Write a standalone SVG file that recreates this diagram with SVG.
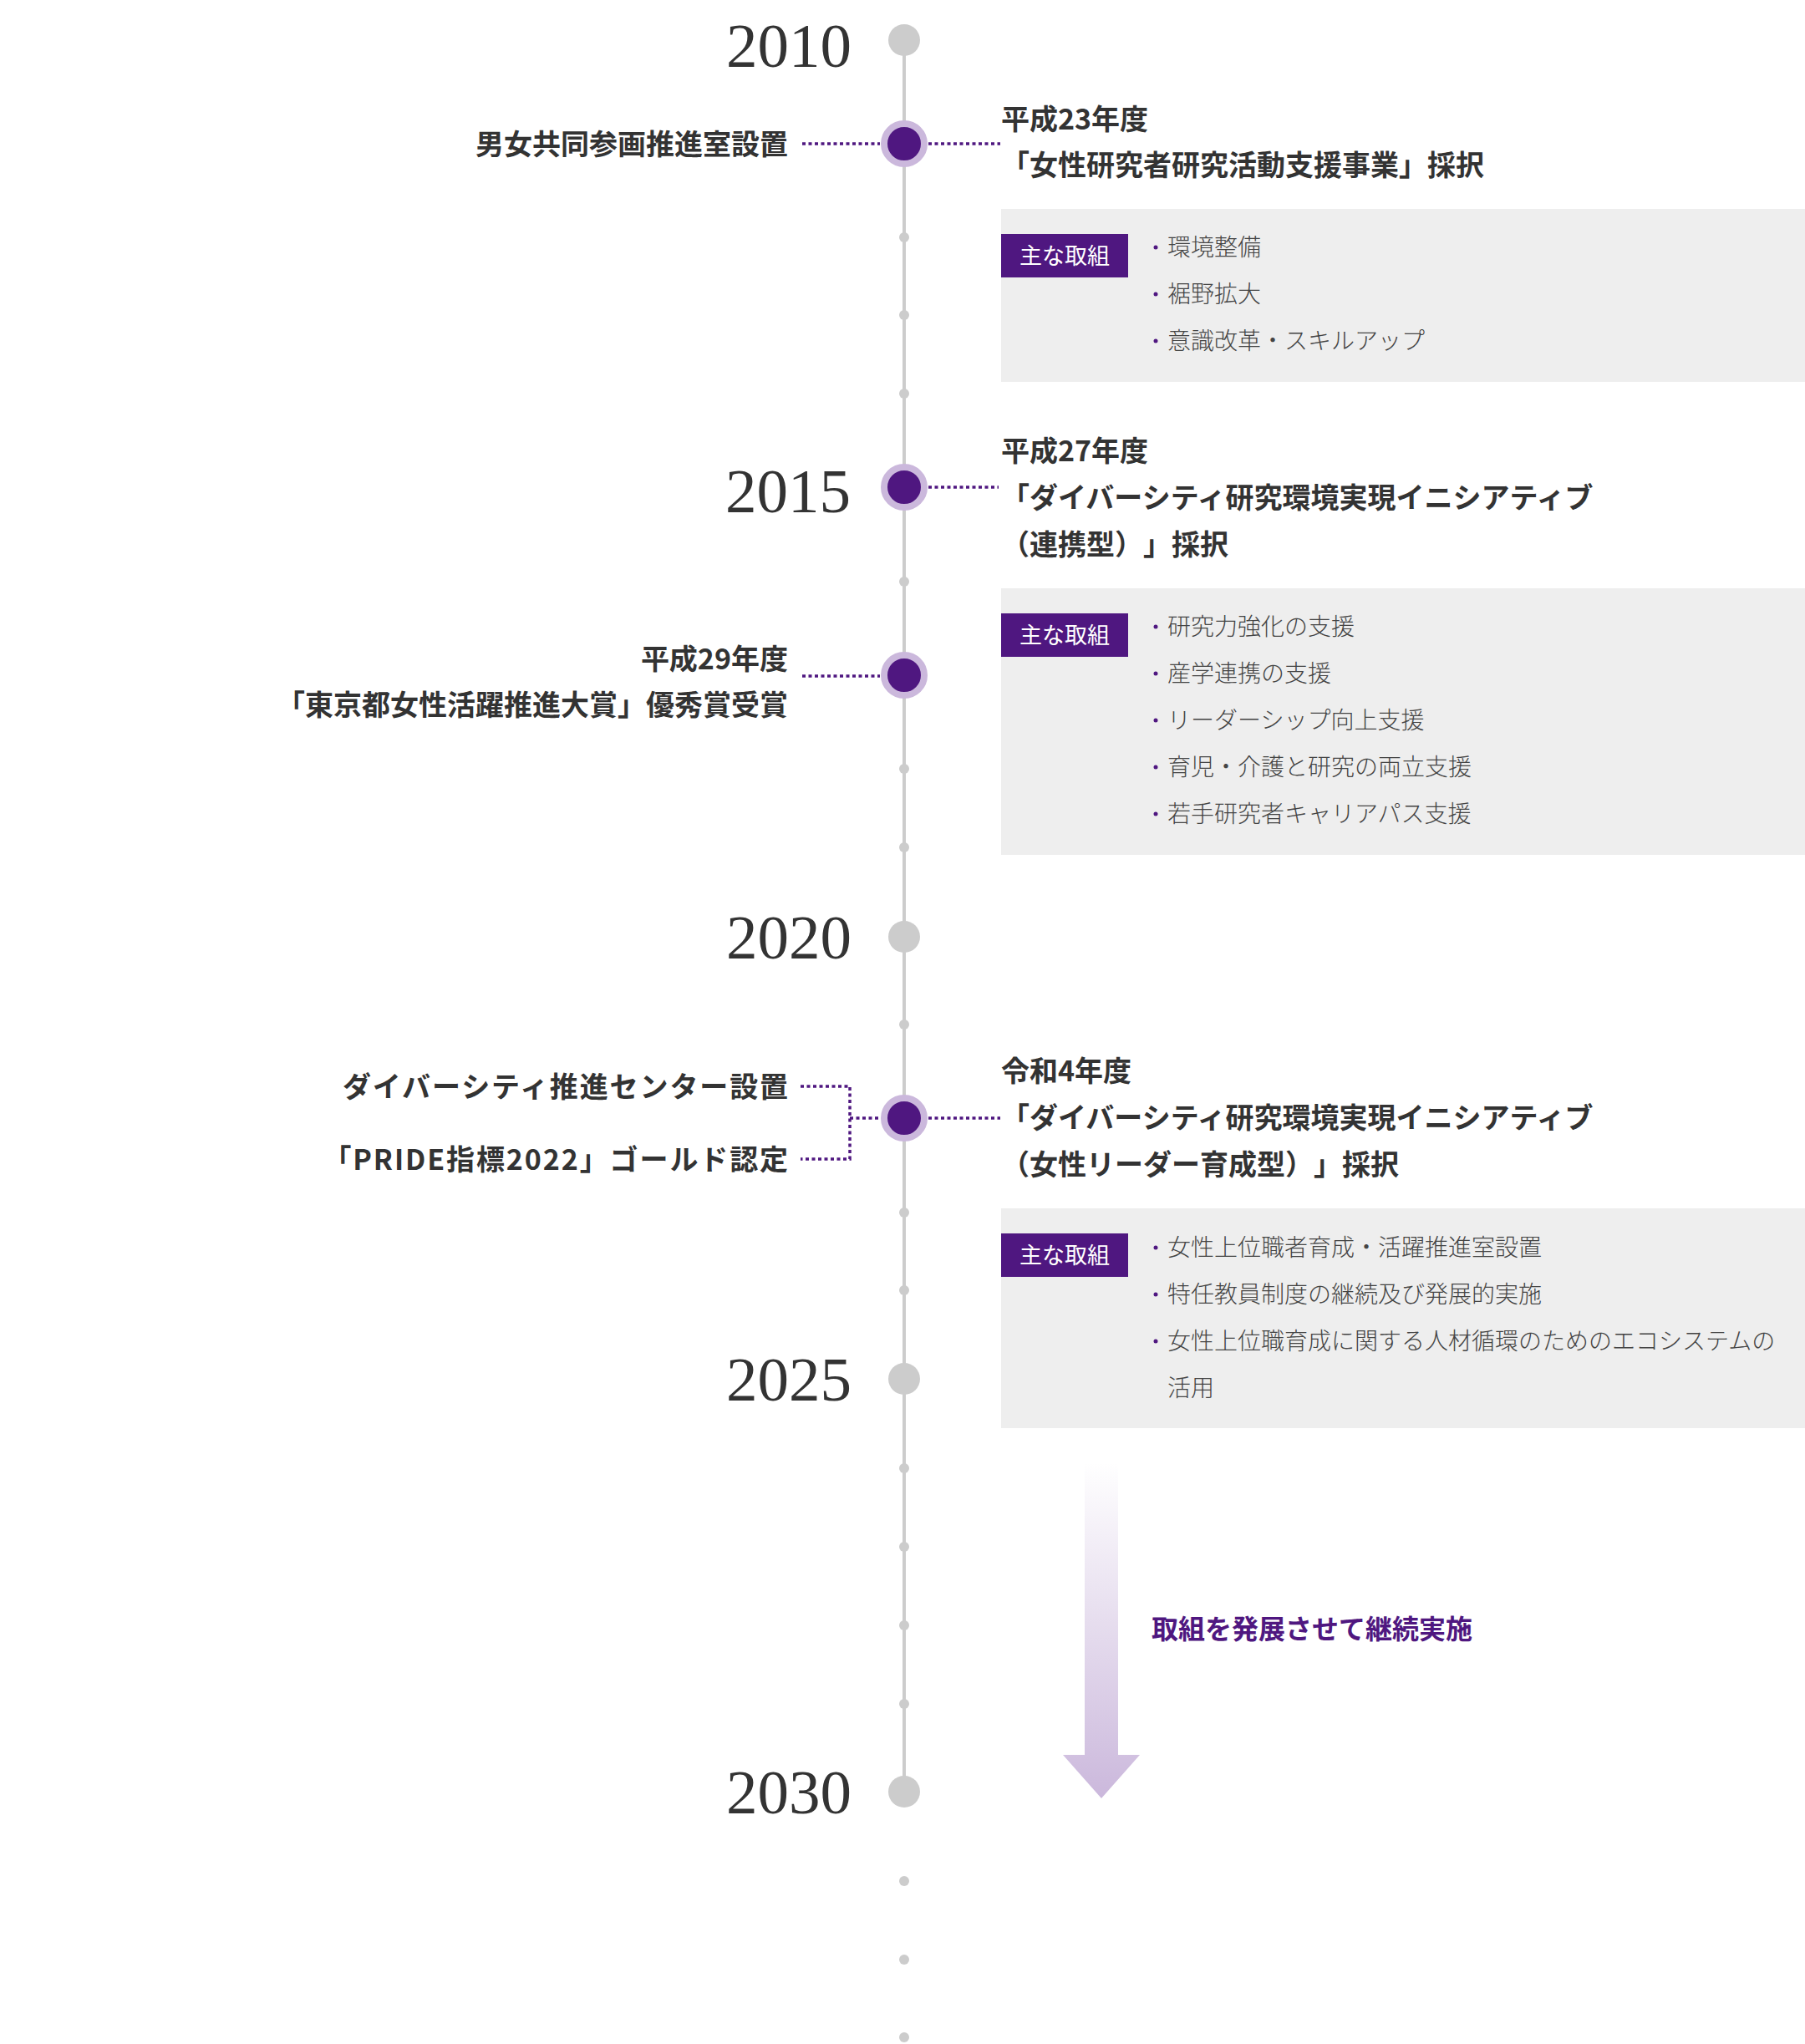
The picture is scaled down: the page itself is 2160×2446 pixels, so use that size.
<svg xmlns="http://www.w3.org/2000/svg" width="2160" height="2446" viewBox="0 0 2160 2446">
<defs>
<linearGradient id="arrowGrad" x1="0" y1="0" x2="0" y2="1">
<stop offset="0" stop-color="#cbb8dc" stop-opacity="0"/>
<stop offset="1" stop-color="#cbb8dc" stop-opacity="1"/>
</linearGradient>
</defs>
<style>
text{text-spacing-trim:space-all}
.year{font-family:"Liberation Serif","Times New Roman",serif;font-size:75px;fill:#333;text-anchor:end}
.ev{font-family:"Noto Sans CJK JP","Noto Sans",sans-serif;font-size:34px;font-weight:700;fill:#333}
.evl{font-family:"Noto Sans CJK JP","Noto Sans",sans-serif;font-size:34px;font-weight:700;fill:#333;text-anchor:end}
.wide{letter-spacing:1.9px}
.item{font-family:"Noto Sans CJK JP","Noto Sans",sans-serif;font-size:28px;font-weight:300;fill:#444}
.tagt{font-family:"Noto Sans CJK JP","Noto Sans",sans-serif;font-size:27px;font-weight:400;fill:#fff;text-anchor:middle}
.note{font-family:"Noto Sans CJK JP","Noto Sans",sans-serif;font-size:32px;font-weight:700;fill:#4f1780}
.box{fill:#eeeeee}
.tag{fill:#4f1780}
.bul{fill:#4f1780}
.gray{fill:#cccccc}
.dot{fill:#cccccc}
.pin{fill:#4f1780;stroke:#cbb8dc;stroke-width:8}
.dash{fill:none;stroke:#4f1780;stroke-width:3.5;stroke-dasharray:4 3.5}
.axis{stroke:#cccccc;stroke-width:4;fill:none}
</style>
<rect width="2160" height="2446" fill="#ffffff"/>

<g id="axis">
<line class="axis" x1="1082" y1="48" x2="1082" y2="2144"/>
</g>

<g id="connectors">
<line class="dash" x1="960" y1="172" x2="1053" y2="172"/>
<line class="dash" x1="1111" y1="172" x2="1197" y2="172"/>
<line class="dash" x1="1111" y1="583" x2="1195" y2="583"/>
<line class="dash" x1="960" y1="809" x2="1053" y2="809"/>
<polyline class="dash" points="958,1300 1017,1300 1017,1387 958,1387"/>
<line class="dash" x1="1017" y1="1338" x2="1053" y2="1338"/>
<line class="dash" x1="1111" y1="1338" x2="1197" y2="1338"/>
</g>

<g id="ticks">
<circle class="dot" cx="1082" cy="284" r="6"/>
<circle class="dot" cx="1082" cy="377" r="6"/>
<circle class="dot" cx="1082" cy="471" r="6"/>
<circle class="dot" cx="1082" cy="696" r="6"/>
<circle class="dot" cx="1082" cy="920" r="6"/>
<circle class="dot" cx="1082" cy="1014" r="6"/>
<circle class="dot" cx="1082" cy="1226" r="6"/>
<circle class="dot" cx="1082" cy="1451" r="6"/>
<circle class="dot" cx="1082" cy="1544" r="6"/>
<circle class="dot" cx="1082" cy="1757" r="6"/>
<circle class="dot" cx="1082" cy="1851" r="6"/>
<circle class="dot" cx="1082" cy="1945" r="6"/>
<circle class="dot" cx="1082" cy="2039" r="6"/>
<circle class="dot" cx="1082" cy="2251" r="6"/>
<circle class="dot" cx="1082" cy="2345" r="6"/>
<circle class="dot" cx="1082" cy="2438" r="6"/>
</g>

<g id="y2010">
<circle class="gray" cx="1082" cy="48" r="19"/>
<text class="year" x="1019" y="80">2010</text>
</g>
<g id="y2015">
<circle class="pin" cx="1082" cy="583" r="24"/>
<text class="year" x="1018" y="613">2015</text>
</g>
<g id="y2020">
<circle class="gray" cx="1082" cy="1121" r="19"/>
<text class="year" x="1019" y="1147">2020</text>
</g>
<g id="y2025">
<circle class="gray" cx="1082" cy="1650" r="19"/>
<text class="year" x="1019" y="1676">2025</text>
</g>
<g id="y2030">
<circle class="gray" cx="1082" cy="2144" r="19"/>
<text class="year" x="1019" y="2170">2030</text>
</g>

<g id="ev2011">
<circle class="pin" cx="1082" cy="172" r="24"/>
<text class="evl" x="943" y="185">男女共同参画推進室設置</text>
<text class="ev" x="1198" y="155">平成23年度</text>
<text class="ev" x="1198" y="210">「女性研究者研究活動支援事業」採択</text>
</g>

<g id="box1">
<rect class="box" x="1198" y="250" width="962" height="207"/>
<rect class="tag" x="1198" y="280" width="152" height="52"/>
<text class="tagt" x="1274" y="316">主な取組</text>
<circle class="bul" cx="1383" cy="296" r="2.5"/>
<text class="item" x="1397" y="306">環境整備</text>
<circle class="bul" cx="1383" cy="352" r="2.5"/>
<text class="item" x="1397" y="362">裾野拡大</text>
<circle class="bul" cx="1383" cy="408" r="2.5"/>
<text class="item" x="1397" y="418">意識改革・スキルアップ</text>
</g>

<g id="ev2015">
<text class="ev" x="1198" y="552">平成27年度</text>
<text class="ev" x="1198" y="608">「ダイバーシティ研究環境実現イニシアティブ</text>
<text class="ev" x="1198" y="664">（連携型）<tspan x="1368">」採択</tspan></text>
</g>

<g id="ev2017">
<circle class="pin" cx="1082" cy="808" r="24"/>
<text class="evl" x="943" y="801">平成29年度</text>
<text class="evl" x="943" y="856">「東京都女性活躍推進大賞」優秀賞受賞</text>
</g>

<g id="box2">
<rect class="box" x="1198" y="704" width="962" height="319"/>
<rect class="tag" x="1198" y="734" width="152" height="52"/>
<text class="tagt" x="1274" y="770">主な取組</text>
<circle class="bul" cx="1383" cy="750" r="2.5"/>
<text class="item" x="1397" y="760">研究力強化の支援</text>
<circle class="bul" cx="1383" cy="806" r="2.5"/>
<text class="item" x="1397" y="816">産学連携の支援</text>
<circle class="bul" cx="1383" cy="862" r="2.5"/>
<text class="item" x="1397" y="872">リーダーシップ向上支援</text>
<circle class="bul" cx="1383" cy="918" r="2.5"/>
<text class="item" x="1397" y="928">育児・介護と研究の両立支援</text>
<circle class="bul" cx="1383" cy="974" r="2.5"/>
<text class="item" x="1397" y="984">若手研究者キャリアパス支援</text>
</g>

<g id="ev2022">
<circle class="pin" cx="1082" cy="1338" r="24"/>
<text class="evl wide" x="945" y="1313">ダイバーシティ推進センター設置</text>
<text class="evl wide" x="945" y="1400">「PRIDE指標2022」ゴールド認定</text>
<text class="ev" x="1198" y="1294">令和4年度</text>
<text class="ev" x="1198" y="1350">「ダイバーシティ研究環境実現イニシアティブ</text>
<text class="ev" x="1198" y="1406">（女性リーダー育成型）<tspan x="1572">」採択</tspan></text>
</g>

<g id="box3">
<rect class="box" x="1198" y="1446" width="962" height="263"/>
<rect class="tag" x="1198" y="1476" width="152" height="52"/>
<text class="tagt" x="1274" y="1512">主な取組</text>
<circle class="bul" cx="1383" cy="1493" r="2.5"/>
<text class="item" x="1397" y="1503">女性上位職者育成・活躍推進室設置</text>
<circle class="bul" cx="1383" cy="1549" r="2.5"/>
<text class="item" x="1397" y="1559">特任教員制度の継続及び発展的実施</text>
<circle class="bul" cx="1383" cy="1605" r="2.5"/>
<text class="item" x="1397" y="1615">女性上位職育成に関する人材循環のためのエコシステムの</text>
<text class="item" x="1397" y="1671">活用</text>
</g>

<g id="continue">
<path d="M1298,1750 L1338,1750 L1338,2100 L1364,2100 L1318,2152 L1272,2100 L1298,2100 Z" fill="url(#arrowGrad)"/>
<text class="note" x="1378" y="1961">取組を発展させて継続実施</text>
</g>
</svg>
